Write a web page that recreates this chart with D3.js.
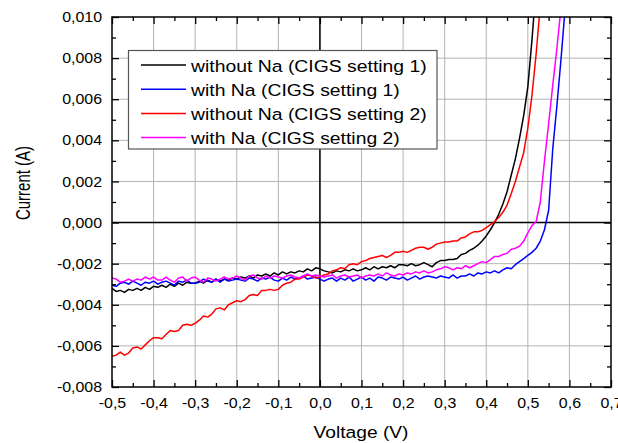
<!DOCTYPE html>
<html><head><meta charset="utf-8">
<script src="https://cdn.jsdelivr.net/npm/d3@7"></script>
<style>
html,body{margin:0;padding:0;background:#fff;}
svg{display:block;font-family:"Liberation Sans",Arial,sans-serif;}
</style>
</head><body><svg id="c" width="618" height="443"></svg>
<script>
// Voltage (V)
const voltage = [
 -0.50,-0.49,-0.48,-0.47,-0.46,-0.45,-0.44,-0.43,-0.42,-0.41,
 -0.40,-0.39,-0.38,-0.37,-0.36,-0.35,-0.34,-0.33,-0.32,-0.31,
 -0.30,-0.29,-0.28,-0.27,-0.26,-0.25,-0.24,-0.23,-0.22,-0.21,
 -0.20,-0.19,-0.18,-0.17,-0.16,-0.15,-0.14,-0.13,-0.12,-0.11,
 -0.10,-0.09,-0.08,-0.07,-0.06,-0.05,-0.04,-0.03,-0.02,-0.01,
  0.00, 0.01, 0.02, 0.03, 0.04, 0.05, 0.06, 0.07, 0.08, 0.09,
  0.10, 0.11, 0.12, 0.13, 0.14, 0.15, 0.16, 0.17, 0.18, 0.19,
  0.20, 0.21, 0.22, 0.23, 0.24, 0.25, 0.26, 0.27, 0.28, 0.29,
  0.30, 0.31, 0.32, 0.33, 0.34, 0.35, 0.36, 0.37, 0.38, 0.39,
  0.40, 0.41, 0.42, 0.43, 0.44, 0.45, 0.46, 0.47, 0.48, 0.49,
  0.50, 0.51, 0.52, 0.53, 0.54, 0.55, 0.56, 0.57, 0.58, 0.59
];
// Currents in mA (converted to A when drawn), indexed like voltage
const withoutNaSetting1 = [
 -3.2,-3.35,-3.3,-3.4,-3.25,-3.3,-3.2,-3.3,-3.15,-3.25,
 -3.1,-3.15,-3.05,-3.15,-3.0,-3.1,-2.95,-3.05,-2.9,-2.95,
 -2.95,-2.85,-2.95,-2.8,-2.9,-2.75,-2.85,-2.75,-2.8,-2.7,
 -2.75,-2.65,-2.7,-2.6,-2.7,-2.55,-2.6,-2.5,-2.6,-2.45,
 -2.55,-2.4,-2.5,-2.4,-2.45,-2.35,-2.4,-2.25,-2.35,-2.2,
 -2.25,-2.35,-2.4,-2.45,-2.35,-2.4,-2.3,-2.35,-2.25,-2.35,
 -2.3,-2.2,-2.3,-2.15,-2.25,-2.15,-2.2,-2.1,-2.2,-2.05,
 -2.05,-2.1,-2.0,-2.1,-2.05,-1.95,-2.05,-2.15,-1.95,-1.85,
 -1.85,-1.8,-1.8,-1.75,-1.55,-1.5,-1.35,-1.25,-1.1,-0.9,
 -0.65,-0.35,0.0,0.4,0.9,1.5,2.3,3.1,4.1,5.2,
 6.6,8.9,11.5
];
const withNaSetting1 = [
 -3.05,-3.1,-2.95,-2.9,-3.0,-2.85,-2.95,-3.05,-2.9,-2.95,
 -2.85,-3.0,-2.9,-2.85,-2.95,-3.05,-2.85,-2.9,-2.8,-2.95,
 -2.95,-2.9,-2.75,-2.85,-2.9,-2.75,-2.9,-2.75,-2.85,-2.8,
 -2.75,-2.8,-2.85,-2.7,-2.75,-2.85,-2.7,-2.75,-2.65,-2.8,
 -2.85,-2.7,-2.8,-2.65,-2.75,-2.7,-2.6,-2.75,-2.7,-2.65,
 -2.75,-2.85,-2.75,-2.7,-2.85,-2.7,-2.8,-2.65,-2.85,-2.75,
 -2.65,-2.8,-2.7,-2.85,-2.65,-2.7,-2.8,-2.65,-2.7,-2.75,
 -2.65,-2.8,-2.7,-2.6,-2.75,-2.65,-2.6,-2.65,-2.7,-2.6,
 -2.65,-2.7,-2.55,-2.7,-2.6,-2.6,-2.5,-2.6,-2.45,-2.5,
 -2.4,-2.45,-2.35,-2.45,-2.3,-2.2,-2.25,-2.05,-1.9,-1.75,
 -1.6,-1.45,-1.25,-0.9,-0.35,0.6,3.6,5.7,8.0,10.5
];
const withoutNaSetting2 = [
 -6.5,-6.45,-6.3,-6.45,-6.35,-6.1,-6.05,-6.15,-5.95,-5.75,
 -5.6,-5.6,-5.65,-5.45,-5.25,-5.3,-5.25,-5.0,-4.95,-5.0,
 -4.9,-4.75,-4.55,-4.6,-4.45,-4.2,-4.15,-4.25,-4.0,-3.9,
 -3.8,-3.85,-3.75,-3.55,-3.5,-3.55,-3.3,-3.3,-3.25,-3.3,
 -3.25,-3.05,-2.95,-2.9,-2.75,-2.75,-2.65,-2.55,-2.6,-2.7,
 -2.65,-2.55,-2.5,-2.35,-2.3,-2.2,-2.25,-2.05,-2.0,-2.05,
 -1.9,-1.85,-1.75,-1.7,-1.65,-1.6,-1.7,-1.6,-1.45,-1.45,
 -1.4,-1.45,-1.35,-1.25,-1.2,-1.2,-1.3,-1.2,-1.05,-1.0,
 -0.95,-0.95,-0.9,-0.9,-0.75,-0.7,-0.55,-0.45,-0.45,-0.38,
 -0.25,-0.1,0.05,0.25,0.5,0.85,1.4,2.0,2.7,3.4,
 4.6,6.2,8.2,10.6
];
const withNaSetting2 = [
 -2.7,-2.75,-2.9,-2.85,-2.75,-2.85,-2.75,-2.8,-2.65,-2.75,
 -2.65,-2.8,-2.8,-2.65,-2.8,-2.9,-2.7,-2.65,-2.85,-2.7,
 -2.65,-2.8,-2.9,-2.7,-2.75,-2.85,-2.75,-2.65,-2.75,-2.7,
 -2.6,-2.7,-2.8,-2.6,-2.55,-2.7,-2.75,-2.6,-2.7,-2.6,
 -2.65,-2.7,-2.6,-2.55,-2.65,-2.7,-2.6,-2.5,-2.6,-2.55,
 -2.6,-2.65,-2.6,-2.55,-2.7,-2.6,-2.55,-2.65,-2.6,-2.55,
 -2.7,-2.6,-2.55,-2.6,-2.5,-2.6,-2.45,-2.55,-2.6,-2.5,
 -2.55,-2.45,-2.5,-2.4,-2.45,-2.35,-2.45,-2.4,-2.3,-2.25,
 -2.15,-2.2,-2.3,-2.2,-2.25,-2.1,-2.2,-2.1,-2.0,-1.9,
 -1.95,-1.8,-1.65,-1.65,-1.55,-1.5,-1.3,-1.25,-1.15,-0.9,
 -0.5,-0.15,0.05,1.0,3.0,4.8,6.7,8.5,10.5
];
const seriesNames = ["without Na (CIGS setting 1)","with Na (CIGS setting 1)","without Na (CIGS setting 2)","with Na (CIGS setting 2)"];
const seriesColors = ["#000000","#0000ff","#ff0000","#ff00ff"];
const seriesValues = [withoutNaSetting1, withNaSetting1, withoutNaSetting2, withNaSetting2];

const xTickValues = [-0.5,-0.4,-0.3,-0.2,-0.1,0,0.1,0.2,0.3,0.4,0.5,0.6,0.7];
const xTickLabels = ["-0,5","-0,4","-0,3","-0,2","-0,1","0,0","0,1","0,2","0,3","0,4","0,5","0,6","0,7"];
const xMinorTicks = [-0.45,-0.35,-0.25,-0.15,-0.05,0.05,0.15,0.25,0.35,0.45,0.55,0.65];
const yTickValues = [-0.008,-0.006,-0.004,-0.002,0,0.002,0.004,0.006,0.008,0.010];
const yTickLabels = ["-0,008","-0,006","-0,004","-0,002","0,000","0,002","0,004","0,006","0,008","0,010"];
const yMinorTicks = [-0.007,-0.005,-0.003,-0.001,0.001,0.003,0.005,0.007,0.009];
const xTitle = "Voltage (V)";
const yTitle = "Current (A)";

const L = 112, R = 611, T = 17, B = 387;
const svg = d3.select("#c");
const x = d3.scaleLinear().domain([-0.5, 0.7]).range([L, R]);
const y = d3.scaleLinear().domain([-0.008, 0.010]).range([B, T]);

// grid
const grid = svg.append("g").attr("stroke", "#b4b4b4").attr("stroke-width", 1);
xTickValues.slice(1, -1).forEach(v => grid.append("line").attr("x1", x(v)).attr("x2", x(v)).attr("y1", T).attr("y2", B));
yTickValues.slice(1, -1).forEach(v => grid.append("line").attr("y1", y(v)).attr("y2", y(v)).attr("x1", L).attr("x2", R));

// zero lines
svg.append("line").attr("x1", x(0)).attr("x2", x(0)).attr("y1", T).attr("y2", B).attr("stroke", "#000").attr("stroke-width", 1.5);
svg.append("line").attr("x1", L).attr("x2", R).attr("y1", y(0)).attr("y2", y(0)).attr("stroke", "#000").attr("stroke-width", 1.5);

// curves
svg.append("clipPath").attr("id", "clip").append("rect").attr("x", L).attr("y", T).attr("width", R - L).attr("height", B - T);
const line = d3.line().x((d, i) => x(voltage[i])).y(d => y(d / 1000));
const curves = svg.append("g").attr("clip-path", "url(#clip)");
seriesValues.forEach((vals, k) => {
  curves.append("path").attr("d", line(vals)).attr("fill", "none")
    .attr("stroke", seriesColors[k]).attr("stroke-width", 1.5).attr("stroke-linejoin", "round");
});

// axes
function styleAxis(g) {
  g.select(".domain").remove();
  g.selectAll(".tick line").attr("stroke", "#000").attr("stroke-width", 1.3);
}
const fs = "14.5px";
const gx = svg.append("g").attr("transform", `translate(0,${B})`)
  .call(d3.axisBottom(x).tickValues(xTickValues).tickFormat((d, i) => xTickLabels[i]).tickSize(-7).tickPadding(10.5));
styleAxis(gx);
gx.selectAll("text").attr("font-size", fs).attr("font-family", "Liberation Sans, Arial, sans-serif").attr("fill", "#000").attr("transform", "scale(1.1,1)");
svg.append("g").attr("transform", `translate(0,${B})`).call(d3.axisBottom(x).tickValues(xMinorTicks).tickFormat("").tickSize(-4)).call(styleAxis);
svg.append("g").attr("transform", `translate(0,${T})`).call(d3.axisTop(x).tickValues(xTickValues).tickFormat("").tickSize(-7)).call(styleAxis);
svg.append("g").attr("transform", `translate(0,${T})`).call(d3.axisTop(x).tickValues(xMinorTicks).tickFormat("").tickSize(-4)).call(styleAxis);

const gy = svg.append("g").attr("transform", `translate(${L},0)`)
  .call(d3.axisLeft(y).tickValues(yTickValues).tickFormat((d, i) => yTickLabels[i]).tickSize(-7).tickPadding(9));
styleAxis(gy);
gy.selectAll("text").attr("font-size", fs).attr("font-family", "Liberation Sans, Arial, sans-serif").attr("fill", "#000").attr("transform", "scale(1.1,1)");
svg.append("g").attr("transform", `translate(${L},0)`).call(d3.axisLeft(y).tickValues(yMinorTicks).tickFormat("").tickSize(-4)).call(styleAxis);
svg.append("g").attr("transform", `translate(${R},0)`).call(d3.axisRight(y).tickValues(yTickValues).tickFormat("").tickSize(-7)).call(styleAxis);
svg.append("g").attr("transform", `translate(${R},0)`).call(d3.axisRight(y).tickValues(yMinorTicks).tickFormat("").tickSize(-4)).call(styleAxis);

// frame
svg.append("rect").attr("x", L).attr("y", T).attr("width", R - L).attr("height", B - T)
  .attr("fill", "none").attr("stroke", "#000").attr("stroke-width", 1.5);

// titles
svg.append("text").attr("transform", `translate(361,438) scale(1.13,1)`).attr("text-anchor", "middle")
  .attr("font-size", "17px").attr("fill", "#000").text(xTitle);
svg.append("text").attr("transform", `translate(30,183) rotate(-90) scale(1,1.3)`).attr("text-anchor", "middle")
  .attr("font-size", "15px").attr("fill", "#000").text(yTitle);

// legend
const lg = svg.append("g");
lg.append("rect").attr("x", 128.5).attr("y", 50.5).attr("width", 308.5).attr("height", 98.5)
  .attr("fill", "#fff").attr("stroke", "#555").attr("stroke-width", 1.2);
seriesNames.forEach((name, k) => {
  const yy = 65 + k * 24.2;
  lg.append("line").attr("x1", 141).attr("x2", 186).attr("y1", yy).attr("y2", yy)
    .attr("stroke", seriesColors[k]).attr("stroke-width", 1.5);
  lg.append("text").attr("transform", `translate(191,${yy + 6.5}) scale(1.14,1)`)
    .attr("font-size", "17px").attr("fill", "#000").text(name);
});
</script>
</body></html>
